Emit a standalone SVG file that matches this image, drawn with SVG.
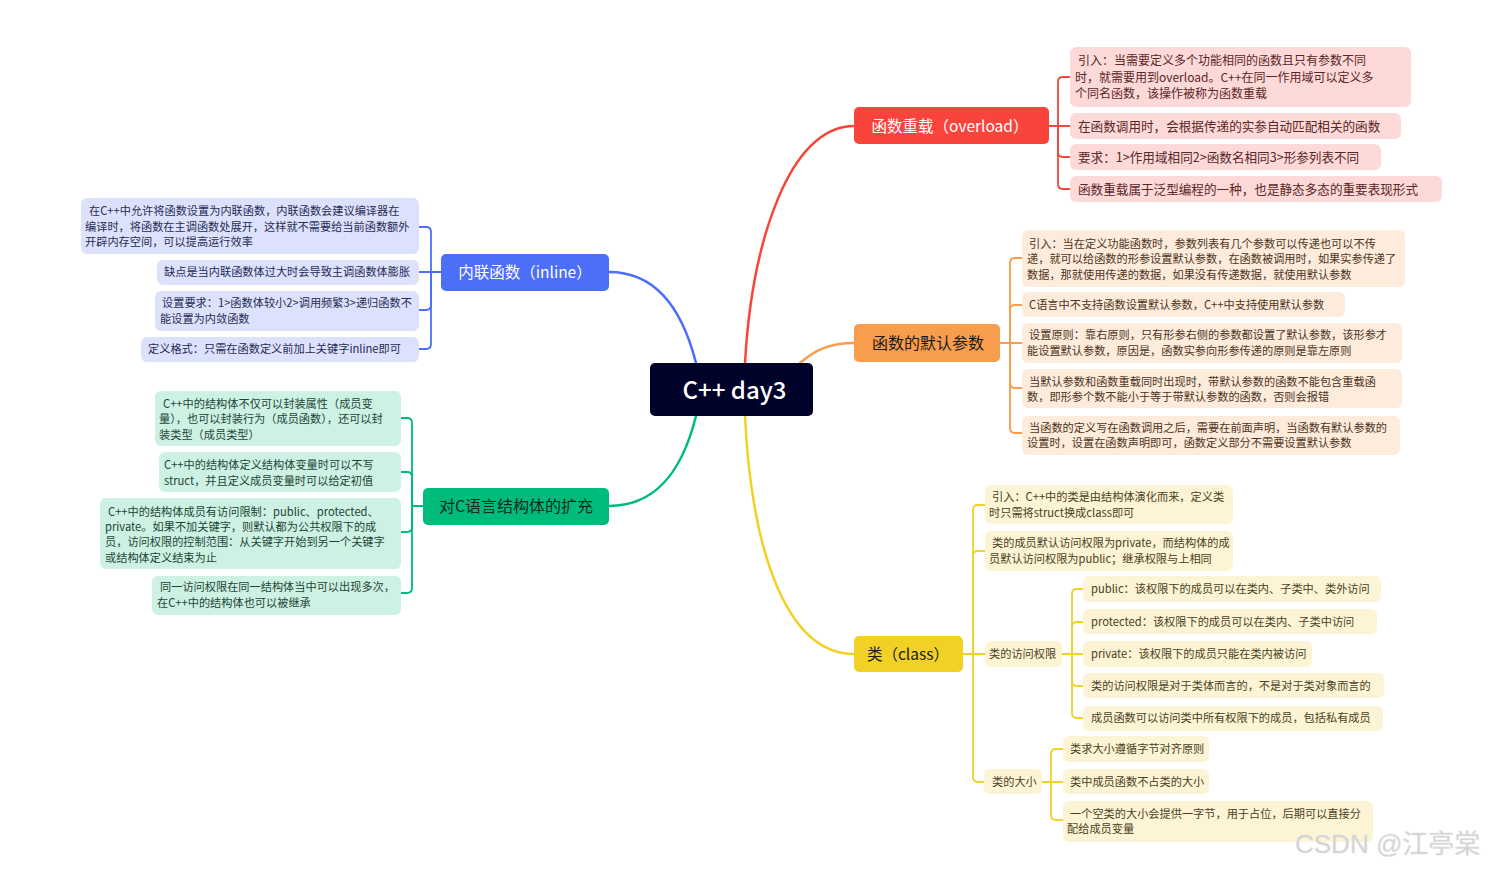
<svg xmlns="http://www.w3.org/2000/svg" width="1489" height="869" viewBox="0 0 1489 869">
<style>
text{font-family:"Noto Sans CJK SC","Noto Sans",sans-serif}
.t{font-size:11.2px}
.t13{font-size:12.6px}
.t12{font-size:12px}
.main{font-size:15.5px}
.c{fill:none;stroke-width:2.5;stroke-linecap:round}
.b{fill:none;stroke-width:1.8;stroke-linecap:round;stroke-linejoin:round}
.r{stroke:#F9443C}.o{stroke:#F79D4C}.y{stroke:#F2D125}.bl{stroke:#4C6EF9}.g{stroke:#00BC7B}
.sr{fill:#FDD9D7}.so{fill:#FDEBDC}.sy{fill:#FCF4D4}.sb{fill:#DDE2FC}.sg{fill:#CDF1E3}
.tr{fill:#5a2626}.to{fill:#4d3420}.ty{fill:#4a3f1c}.tb{fill:#262c55}.tg{fill:#1d4536}
</style>
<rect width="1489" height="869" fill="#ffffff"/>
<g id="connectors">
<path class="c r" d="M745,363 C752,240 790,126 854,126"/>
<path class="c o" d="M800,363 C815,350 830,343 854,343"/>
<path class="c bl" d="M696,363 C680,300 650,272 609,272"/>
<path class="c g" d="M696,416 C680,480 650,506 609,506"/>
<path class="c y" d="M745,416 C752,560 790,654 854,654"/>
<path class="b r" d="M1049,126 H1070"/>
<path class="b r" d="M1058,126 V82 Q1058,77 1063,77 H1070"/>
<path class="b r" d="M1058,126 V152 Q1058,157 1063,157 H1070"/>
<path class="b r" d="M1058,126 V184 Q1058,189 1063,189 H1070"/>
<path class="b o" d="M1000,343 H1022"/>
<path class="b o" d="M1010,343 V263 Q1010,258 1015,258 H1022"/>
<path class="b o" d="M1010,343 V310 Q1010,305 1015,305 H1022"/>
<path class="b o" d="M1010,343 V383 Q1010,388 1015,388 H1022"/>
<path class="b o" d="M1010,343 V428 Q1010,433 1015,433 H1022"/>
<path class="b y" d="M963,654 H985"/>
<path class="b y" d="M973,654 V510 Q973,505 978,505 H985"/>
<path class="b y" d="M973,654 V556 Q973,551 978,551 H985"/>
<path class="b y" d="M973,654 V777 Q973,782 978,782 H984"/>
<path class="b y" d="M1062,654 H1083"/>
<path class="b y" d="M1072,654 V594 Q1072,589 1077,589 H1083"/>
<path class="b y" d="M1072,654 V627 Q1072,622 1077,622 H1083"/>
<path class="b y" d="M1072,654 V681 Q1072,686 1077,686 H1083"/>
<path class="b y" d="M1072,654 V713 Q1072,718 1077,718 H1083"/>
<path class="b y" d="M1042,782 H1063"/>
<path class="b y" d="M1051,782 V754 Q1051,749 1056,749 H1063"/>
<path class="b y" d="M1051,782 V815 Q1051,820 1056,820 H1063"/>
<path class="b bl" d="M441,272 H419"/>
<path class="b bl" d="M431,272 V232 Q431,227 426,227 H419"/>
<path class="b bl" d="M431,272 V305 Q431,310 426,310 H419"/>
<path class="b bl" d="M431,272 V344 Q431,349 426,349 H419"/>
<path class="b g" d="M423,506 H412"/>
<path class="b g" d="M412,506 V423 Q412,418 407,418 H401"/>
<path class="b g" d="M412,506 V477 Q412,472 407,472 H401"/>
<path class="b g" d="M412,506 V527 Q412,532 407,532 H401"/>
<path class="b g" d="M412,506 V588 Q412,593 407,593 H401"/>
</g>

<g id="root">
<rect x="650" y="363" width="163" height="53" rx="5" fill="#000229"/>
<text x="734.5" y="398.5" font-size="24" font-weight="500" fill="#ffffff" text-anchor="middle">C++ day3</text>
</g>

<g id="overload">
<rect x="854" y="107" width="195" height="37" rx="5" fill="#F9443C"/>
<text class="main" x="950" y="131.5" fill="#ffffff" text-anchor="middle">函数重载（overload）</text>
</g>
<g id="ov1"><rect class="sr" x="1070" y="47" width="341" height="60" rx="6"/>
<text class="t12 tr"><tspan x="1078" y="65">引入：当需要定义多个功能相同的函数且只有参数不同</tspan><tspan x="1075" y="81.5">时，就需要用到overload。C++在同一作用域可以定义多</tspan><tspan x="1075" y="98">个同名函数，该操作被称为函数重载</tspan></text></g>
<g id="ov2"><rect class="sr" x="1070" y="113" width="331" height="26" rx="6"/>
<text class="t13 tr" x="1078" y="130.5">在函数调用时，会根据传递的实参自动匹配相关的函数</text></g>
<g id="ov3"><rect class="sr" x="1070" y="144" width="311" height="26" rx="6"/>
<text class="t13 tr" x="1078" y="161.5">要求：1&gt;作用域相同2&gt;函数名相同3&gt;形参列表不同</text></g>
<g id="ov4"><rect class="sr" x="1070" y="176" width="372" height="26" rx="6"/>
<text class="t13 tr" x="1078" y="193.5">函数重载属于泛型编程的一种，也是静态多态的重要表现形式</text></g>

<g id="defaults">
<rect x="854" y="324" width="146" height="38" rx="5" fill="#F79D4C"/>
<text x="928" y="349" fill="#1a1a1a" text-anchor="middle" style="font-size:16px">函数的默认参数</text>
</g>
<g id="df1"><rect class="so" x="1022" y="230" width="383" height="57" rx="6"/>
<text class="t to"><tspan x="1029" y="248">引入：当在定义功能函数时，参数列表有几个参数可以传递也可以不传</tspan><tspan x="1027" y="263">递，就可以给函数的形参设置默认参数，在函数被调用时，如果实参传递了</tspan><tspan x="1027" y="279">数据，那就使用传递的数据，如果没有传递数据，就使用默认参数</tspan></text></g>
<g id="df2"><rect class="so" x="1022" y="292" width="323" height="25" rx="6"/>
<text class="t to" x="1029" y="309">C语言中不支持函数设置默认参数，C++中支持使用默认参数</text></g>
<g id="df3"><rect class="so" x="1022" y="323" width="380" height="40" rx="6"/>
<text class="t to"><tspan x="1029" y="339">设置原则：靠右原则，只有形参右侧的参数都设置了默认参数，该形参才</tspan><tspan x="1027" y="355">能设置默认参数，原因是，函数实参向形参传递的原则是靠左原则</tspan></text></g>
<g id="df4"><rect class="so" x="1022" y="369" width="380" height="39" rx="6"/>
<text class="t to"><tspan x="1029" y="386">当默认参数和函数重载同时出现时，带默认参数的函数不能包含重载函</tspan><tspan x="1027" y="401">数，即形参个数不能小于等于带默认参数的函数，否则会报错</tspan></text></g>
<g id="df5"><rect class="so" x="1022" y="416" width="378" height="39" rx="6"/>
<text class="t to"><tspan x="1029" y="432">当函数的定义写在函数调用之后，需要在前面声明，当函数有默认参数的</tspan><tspan x="1027" y="447">设置时，设置在函数声明即可，函数定义部分不需要设置默认参数</tspan></text></g>

<g id="class">
<rect x="854" y="636" width="109" height="36" rx="5" fill="#F2D125"/>
<text class="main" x="908" y="660" fill="#1a1a1a" text-anchor="middle">类（class）</text>
</g>
<g id="cl1"><rect class="sy" x="985" y="485" width="248" height="39" rx="6"/>
<text class="t ty"><tspan x="992" y="501">引入：C++中的类是由结构体演化而来，定义类</tspan><tspan x="989" y="517">时只需将struct换成class即可</tspan></text></g>
<g id="cl2"><rect class="sy" x="985" y="531" width="248" height="40" rx="6"/>
<text class="t ty"><tspan x="992" y="547">类的成员默认访问权限为private，而结构体的成</tspan><tspan x="989" y="563">员默认访问权限为public；继承权限与上相同</tspan></text></g>
<g id="cl3"><rect class="sy" x="985" y="641" width="77" height="26" rx="6"/>
<text class="t ty" x="989" y="658">类的访问权限</text></g>
<g id="ac1"><rect class="sy" x="1083" y="576" width="298" height="26" rx="6"/>
<text class="t ty" x="1091" y="593">public：该权限下的成员可以在类内、子类中、类外访问</text></g>
<g id="ac2"><rect class="sy" x="1083" y="609" width="294" height="25" rx="6"/>
<text class="t ty" x="1091" y="626">protected：该权限下的成员可以在类内、子类中访问</text></g>
<g id="ac3"><rect class="sy" x="1083" y="641" width="229" height="26" rx="6"/>
<text class="t ty" x="1091" y="658">private：该权限下的成员只能在类内被访问</text></g>
<g id="ac4"><rect class="sy" x="1083" y="673" width="301" height="25" rx="6"/>
<text class="t ty" x="1091" y="690">类的访问权限是对于类体而言的，不是对于类对象而言的</text></g>
<g id="ac5"><rect class="sy" x="1083" y="706" width="300" height="25" rx="6"/>
<text class="t ty" x="1091" y="722">成员函数可以访问类中所有权限下的成员，包括私有成员</text></g>
<g id="cl4"><rect class="sy" x="984" y="769" width="58" height="25" rx="6"/>
<text class="t ty" x="992" y="786">类的大小</text></g>
<g id="sz1"><rect class="sy" x="1063" y="736" width="146" height="26" rx="6"/>
<text class="t ty" x="1070" y="753">类求大小遵循字节对齐原则</text></g>
<g id="sz2"><rect class="sy" x="1063" y="769" width="146" height="25" rx="6"/>
<text class="t ty" x="1070" y="786">类中成员函数不占类的大小</text></g>
<g id="sz3"><rect class="sy" x="1063" y="801" width="310" height="41" rx="6"/>
<text class="t ty"><tspan x="1070" y="818">一个空类的大小会提供一字节，用于占位，后期可以直接分</tspan><tspan x="1067" y="833">配给成员变量</tspan></text></g>

<g id="inline">
<rect x="441" y="254" width="168" height="37" rx="5" fill="#4C6EF9"/>
<text class="main" x="525" y="278" fill="#ffffff" text-anchor="middle">内联函数（inline）</text>
</g>
<g id="in1"><rect class="sb" x="81" y="198" width="338" height="56" rx="6"/>
<text class="t tb"><tspan x="89" y="215">在C++中允许将函数设置为内联函数，内联函数会建议编译器在</tspan><tspan x="85" y="231">编译时，将函数在主调函数处展开，这样就不需要给当前函数额外</tspan><tspan x="85" y="246">开辟内存空间，可以提高运行效率</tspan></text></g>
<g id="in2"><rect class="sb" x="157" y="260" width="262" height="25" rx="6"/>
<text class="t tb" x="164" y="276">缺点是当内联函数体过大时会导致主调函数体膨胀</text></g>
<g id="in3"><rect class="sb" x="155" y="291" width="264" height="40" rx="6"/>
<text class="t tb"><tspan x="162" y="307">设置要求：1&gt;函数体较小2&gt;调用频繁3&gt;递归函数不</tspan><tspan x="160" y="323">能设置为内敛函数</tspan></text></g>
<g id="in4"><rect class="sb" x="141" y="337" width="278" height="25" rx="6"/>
<text class="t tb" x="148" y="353">定义格式：只需在函数定义前加上关键字inline即可</text></g>

<g id="struct">
<rect x="423" y="488" width="186" height="37" rx="5" fill="#00BC7B"/>
<text x="516" y="512" fill="#0d2a1d" text-anchor="middle" style="font-size:16px">对C语言结构体的扩充</text>
</g>
<g id="st1"><rect class="sg" x="155" y="391" width="246" height="55" rx="6"/>
<text class="t tg"><tspan x="163" y="408">C++中的结构体不仅可以封装属性（成员变</tspan><tspan x="159" y="423">量），也可以封装行为（成员函数），还可以封</tspan><tspan x="159" y="439">装类型（成员类型）</tspan></text></g>
<g id="st2"><rect class="sg" x="159" y="452" width="242" height="40" rx="6"/>
<text class="t tg"><tspan x="164" y="469">C++中的结构体定义结构体变量时可以不写</tspan><tspan x="164" y="485">struct，并且定义成员变量时可以给定初值</tspan></text></g>
<g id="st3"><rect class="sg" x="100" y="498" width="301" height="71" rx="6"/>
<text class="t tg"><tspan x="108" y="516">C++中的结构体成员有访问限制：public、protected、</tspan><tspan x="105" y="531">private。如果不加关键字，则默认都为公共权限下的成</tspan><tspan x="105" y="546">员，访问权限的控制范围：从关键字开始到另一个关键字</tspan><tspan x="105" y="562">或结构体定义结束为止</tspan></text></g>
<g id="st4"><rect class="sg" x="152" y="576" width="249" height="39" rx="6"/>
<text class="t tg"><tspan x="160" y="591">同一访问权限在同一结构体当中可以出现多次，</tspan><tspan x="157" y="607">在C++中的结构体也可以被继承</tspan></text></g>

<text x="1295" y="853" font-size="26" fill="#cfcfcf" stroke="#e6e6e6" stroke-width="0.6" style="font-family:'Liberation Sans','Noto Sans CJK SC',sans-serif">CSDN @江亭棠</text>
</svg>
